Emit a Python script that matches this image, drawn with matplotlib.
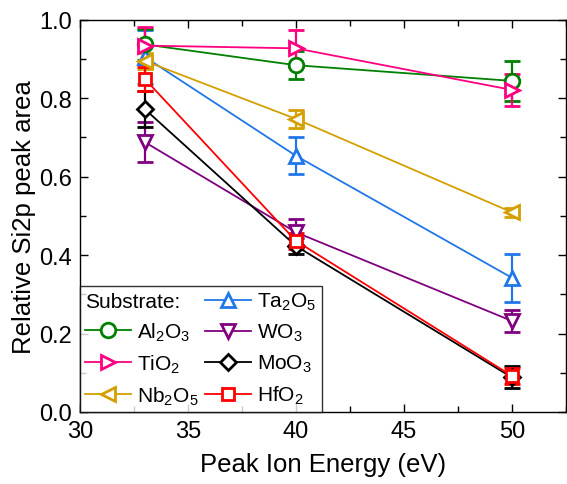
import matplotlib
matplotlib.use("Agg")
import matplotlib.pyplot as plt
from matplotlib.lines import Line2D
from matplotlib.ticker import MultipleLocator

plt.rcParams["font.family"] = ["Liberation Sans", "DejaVu Sans"]
plt.rcParams["mathtext.fontset"] = "custom"
plt.rcParams["mathtext.rm"] = "Liberation Sans"

energy = [33, 40, 50]

al2o3 = [0.937, 0.884, 0.844]
al2o3_err = [0.04, 0.036, 0.05]
tio2 = [0.934, 0.927, 0.821]
tio2_err = [0.047, 0.047, 0.04]
nb2o5 = [0.895, 0.747, 0.509]
nb2o5_err = [0.02, 0.022, 0.012]
ta2o5 = [0.905, 0.653, 0.342]
ta2o5_err = [0.07, 0.047, 0.062]
wo3 = [0.688, 0.458, 0.232]
wo3_err = [0.05, 0.033, 0.028]
moo3 = [0.772, 0.423, 0.088]
moo3_err = [0.045, 0.02, 0.028]
hfo2 = [0.849, 0.436, 0.092]
hfo2_err = [0.03, 0.02, 0.02]

labels = ["Al$_2$O$_3$", "TiO$_2$", "Nb$_2$O$_5$", "Ta$_2$O$_5$", "WO$_3$", "MoO$_3$", "HfO$_2$"]

fig = plt.figure(figsize=(5.67, 4.85), dpi=100)
ax = fig.add_axes([80/567, 1-413/485, (566-80)/567, (413-20.7)/485])

series = [
    (ta2o5, ta2o5_err, "#1F77E8", "^", 3),
    (wo3, wo3_err, "#800080", "v", 4),
    (moo3, moo3_err, "black", "D", 5),
    (al2o3, al2o3_err, "#008000", "o", 0),
    (nb2o5, nb2o5_err, "#D4A000", "<", 2),
    (tio2, tio2_err, "#FF0080", ">", 1),
    (hfo2, hfo2_err, "#FF0000", "s", 6),
]
handles = [None]*7
for y, e, c, m, i in series:
    ms = 8.5 if m in ("D", "s") else 10.5
    ax.errorbar(energy, y, yerr=e, color=c, lw=1.3, marker=m, ms=ms, mfc="white",
                mec=c, mew=2, capsize=5.5, capthick=1.6, elinewidth=1.6)
    handles[i] = Line2D([], [], color=c, lw=1.3, marker=m, ms=ms, mfc="white", mec=c, mew=2)

title_h = Line2D([], [], linestyle="none")
leg_h = [title_h, handles[0], handles[1], handles[2], handles[3], handles[4], handles[5], handles[6]]
leg_l = ["Substrate:", labels[0], labels[1], labels[2], labels[3], labels[4], labels[5], labels[6]]
leg = ax.legend(leg_h, leg_l, ncol=2, loc="lower left", fontsize=15, frameon=True, fancybox=False,
                edgecolor="black", borderaxespad=0, handlelength=2.2, handletextpad=0.3,
                columnspacing=0.3, labelspacing=0.45, borderpad=0.25)
leg.get_frame().set_linewidth(1)
col0 = leg._legend_handle_box.get_children()[0]
row0 = col0.get_children()[0]
row0.get_children()[0].width = 0
row0.sep = 0

ax.set_xlim(30, 52.5)
ax.set_ylim(0, 1.0)
ax.xaxis.set_major_locator(MultipleLocator(5))
ax.xaxis.set_minor_locator(MultipleLocator(2.5))
ax.yaxis.set_major_locator(MultipleLocator(0.2))
ax.yaxis.set_minor_locator(MultipleLocator(0.1))
ax.yaxis.set_major_formatter(matplotlib.ticker.FormatStrFormatter("%.1f"))
ax.tick_params(which="both", direction="in", top=True, right=True, labelsize=17)
ax.tick_params(which="major", length=6, width=1, pad=6)
ax.tick_params(which="minor", length=4, width=1)
for s in ax.spines.values():
    s.set_linewidth(1)

ax.set_xlabel("Peak Ion Energy (eV)", fontsize=18.5, labelpad=7)
ax.set_ylabel("Relative Si2p peak area", fontsize=18.5, labelpad=2)

fig.savefig("out.png", dpi=100)
